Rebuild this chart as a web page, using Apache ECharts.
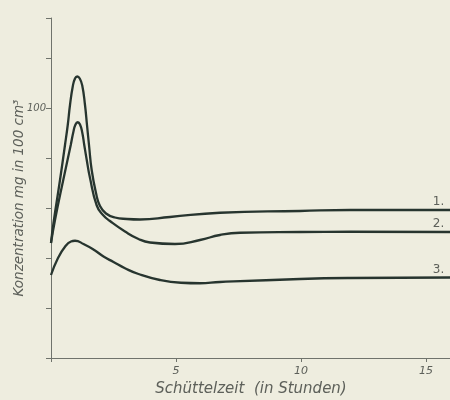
<!DOCTYPE html>
<html>
<head>
<meta charset="utf-8">
<script src="https://cdn.jsdelivr.net/npm/echarts@6/dist/echarts.min.js"></script>
<style>
html,body{margin:0;padding:0;background:#eeeddf;}
#chart{width:450px;height:400px;}
</style>
</head>
<body>
<div id="chart"></div>
<script>
// Data (x: Schüttelzeit in Stunden, y: Konzentration mg in 100 cm³)
var seriesNames = ['1.', '2.', '3.'];
var curve1 = [
  [0, 46], [0.1, 54], [0.36, 71.2], [0.56, 85.2], [0.67, 93.2], [0.76, 101.2],
  [0.87, 108.6], [0.96, 111.8], [1.05, 112.6], [1.15, 111.8], [1.25, 109], [1.36, 101.2],
  [1.44, 93.2], [1.52, 85.2], [1.63, 75], [1.8, 66], [1.96, 60.8], [2.2, 57.8],
  [2.56, 56.2], [3.04, 55.6], [3.56, 55.4], [4.76, 56.4], [6.76, 58.1], [9.96, 58.8],
  [11.96, 59.2], [16, 59.2]
];
var curve2 = [
  [0, 46], [0.16, 55.2], [0.49, 71.2], [0.79, 85.2], [0.89, 90.2], [0.98, 93.4], [1.07, 94.3],
  [1.16, 93.4], [1.25, 90.2], [1.33, 85.2], [1.43, 79.2], [1.55, 72.5], [1.83, 61],
  [2.08, 57.2], [2.36, 54.8], [2.96, 50.6], [3.5, 47.6], [3.96, 46.2], [4.96, 45.6],
  [5.96, 47.2], [6.76, 49.2], [7.56, 50.1], [9.96, 50.4], [11.96, 50.5], [16, 50.4]
];
var curve3 = [
  [0, 33.2], [0.28, 40], [0.56, 44.5], [0.8, 46.6], [0.96, 46.9], [1.3, 45.6],
  [1.76, 43], [2.1, 40.6], [2.5, 38.4], [2.96, 35.9], [3.5, 33.6], [4.36, 31.2],
  [5.2, 30.1], [5.96, 29.9], [6.76, 30.4], [9.96, 31.6], [11.96, 32], [16, 32.2]
];
var curves = [curve1, curve2, curve3];
var labelX = 15.5;            // where the curve numbers stand (hours)
var xTickLabels = [5, 10, 15];
var yTickLabels = [100];

var lineColor = '#27352f';
var textColor = '#5d605a';

function valueAt(data, x) {
  for (var i = 1; i < data.length; i++) {
    if (data[i][0] >= x) {
      var a = data[i - 1], b = data[i];
      return a[1] + (b[1] - a[1]) * (x - a[0]) / (b[0] - a[0]);
    }
  }
  return data[data.length - 1][1];
}

var chart = echarts.init(document.getElementById('chart'), null, {renderer: 'canvas'});
var option = {
  backgroundColor: '#eeeddf',
  animation: false,
  grid: {left: 51, top: 18, width: 400, height: 340, containLabel: false, outerBoundsMode: 'none'},
  xAxis: {
    type: 'value', min: 0, max: 16, interval: 5,
    axisLine: {show: true, lineStyle: {color: '#6f736c', width: 1}},
    axisTick: {show: true, length: 4, lineStyle: {color: '#6f736c'}},
    splitLine: {show: false},
    axisLabel: {
      color: textColor, fontStyle: 'italic', fontFamily: 'DejaVu Sans', fontSize: 11, margin: 8,
      formatter: function (v) { return xTickLabels.indexOf(v) >= 0 ? String(v) : ''; }
    },
    name: 'Schüttelzeit  (in Stunden)',
    nameLocation: 'middle', nameGap: 24, nameMoveOverlap: false,
    nameTextStyle: {color: textColor, fontStyle: 'italic', fontFamily: 'DejaVu Sans', fontSize: 15}
  },
  yAxis: {
    type: 'value', min: 0, max: 136, interval: 20,
    axisLine: {show: true, lineStyle: {color: '#6f736c', width: 1}},
    axisTick: {show: true, length: 5, lineStyle: {color: '#6f736c'}},
    splitLine: {show: false},
    axisLabel: {
      color: textColor, fontStyle: 'italic', fontFamily: 'DejaVu Sans', fontSize: 10, margin: 5,
      formatter: function (v) { return yTickLabels.indexOf(v) >= 0 ? String(v) : ''; }
    },
    name: 'Konzentration mg in 100 cm³',
    nameLocation: 'middle', nameGap: 25, nameMoveOverlap: false,
    nameTextStyle: {color: textColor, fontStyle: 'italic', fontFamily: 'DejaVu Sans', fontSize: 13.5,
                    padding: [0, 20, 0, 0]}
  },
  series: curves.map(function (d, i) {
    return {
      type: 'line', name: seriesNames[i], data: d,
      smooth: 0.5, showSymbol: false, symbol: 'none',
      lineStyle: {color: lineColor, width: 2.3},
      markPoint: {
        symbol: 'circle', symbolSize: 0,
        label: {show: true, position: 'top', distance: 2, color: textColor,
                fontFamily: 'DejaVu Sans', fontSize: 12, formatter: seriesNames[i]},
        data: [{coord: [labelX, valueAt(d, labelX)]}]
      }
    };
  })
};
chart.setOption(option);
</script>
</body>
</html>
